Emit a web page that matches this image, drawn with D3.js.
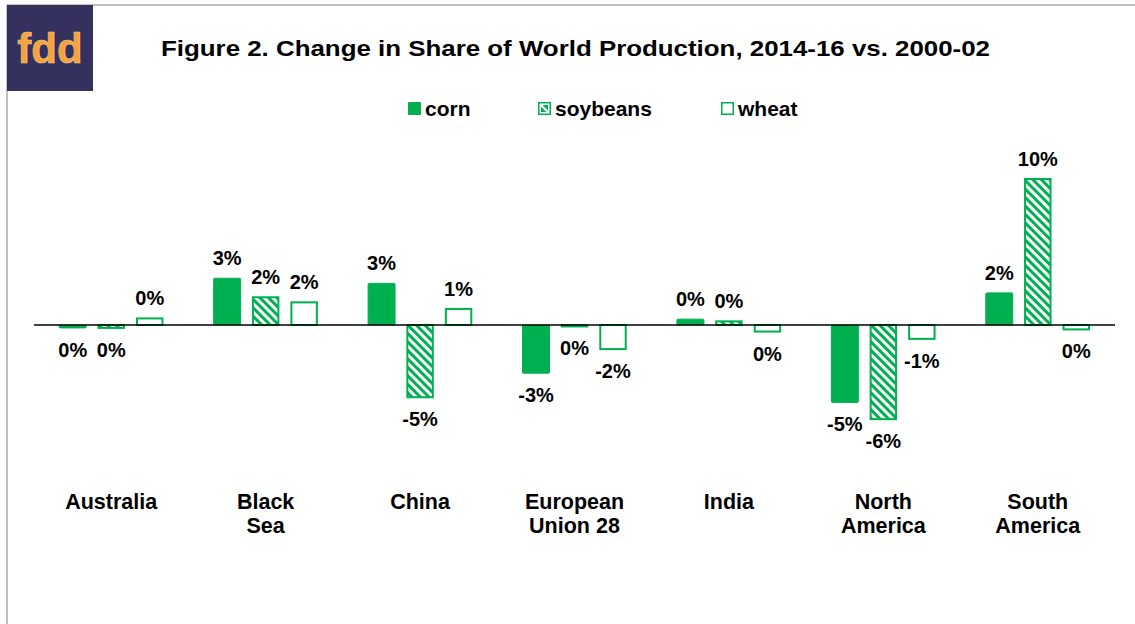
<!DOCTYPE html>
<html>
<head>
<meta charset="utf-8">
<script src="https://cdn.jsdelivr.net/npm/d3@7"></script>
<style>
  html, body { margin: 0; padding: 0; background: #fff; }
  svg { display: block; }
  text { font-family: "Liberation Sans", Arial, sans-serif; }
</style>
</head>
<body>
<svg id="chart" width="1135" height="624"></svg>
<script>
// ---- data (percent change in share of world production) ----
const categories = ["Australia", "Black Sea", "China", "European Union 28", "India", "North America", "South America"];
const seriesNames = ["corn", "soybeans", "wheat"];
const corn     = [-0.2, 3.2, 2.85, -3.3, 0.4, -5.3, 2.2];
const soybeans = [-0.2, 1.9, -4.95, -0.1, 0.25, -6.45, 10.0];
const wheat    = [0.45, 1.55, 1.1, -1.65, -0.45, -0.95, -0.3];
const titleText = "Figure 2. Change in Share of World Production, 2014-16 vs. 2000-02";
const logoText = "fdd";

const seriesValues = { corn, soybeans, wheat };
const green = "#00b050";

const svg = d3.select("#chart");
const W = 1135, H = 624;

svg.append("rect").attr("width", W).attr("height", H).attr("fill", "#fff");

// pattern for soybeans
const defs = svg.append("defs");
const pat = defs.append("pattern")
  .attr("id", "hatch")
  .attr("patternUnits", "userSpaceOnUse")
  .attr("width", 6).attr("height", 6)
  .attr("patternTransform", "rotate(-45)");
pat.append("rect").attr("width", 6).attr("height", 6).attr("fill", "#fff");
pat.append("rect").attr("x", 0).attr("width", 3).attr("height", 6).attr("fill", green);

// frame
svg.append("line").attr("x1", 7).attr("x2", W).attr("y1", 5).attr("y2", 5)
  .attr("stroke", "#c0c0c0").attr("stroke-width", 2);
svg.append("line").attr("x1", 7).attr("x2", 7).attr("y1", 5).attr("y2", H)
  .attr("stroke", "#c0c0c0").attr("stroke-width", 2);

// logo
svg.append("rect").attr("x", 7).attr("y", 5).attr("width", 86).attr("height", 86).attr("fill", "#35315f");
svg.append("text").attr("x", 50).attr("y", 63).attr("text-anchor", "middle")
  .attr("font-size", 42).attr("font-weight", "bold").attr("fill", "#f8a23b")
  .attr("stroke", "#f3c892").attr("stroke-width", 0.6)
  .text(logoText);

// title
svg.append("text").attr("x", 161).attr("y", 56)
  .attr("font-size", 22).attr("font-weight", "bold").attr("fill", "#000")
  .attr("textLength", 829).attr("lengthAdjust", "spacingAndGlyphs")
  .text(titleText);

// scales
const x0 = d3.scaleBand().domain(categories).range([34, 1115]).padding(0);
const x1 = d3.scaleBand().domain(seriesNames).range([-57.75, 57.75]).paddingInner(0.3).paddingOuter(0.15);
const y = d3.scaleLinear().domain([-8, 12]).range([441.8, 149.8]);

// legend
const legendX = { corn: 408, soybeans: 538, wheat: 721 };
seriesNames.forEach(s => {
  const g = svg.append("g").attr("transform", `translate(${legendX[s]},102)`);
  if (s === "corn") {
    g.append("rect").attr("width", 13).attr("height", 13).attr("fill", green).attr("rx", 1);
  } else if (s === "soybeans") {
    g.append("rect").attr("x", 0.75).attr("y", 0.75).attr("width", 11.5).attr("height", 11.5)
      .attr("fill", "#fff").attr("stroke", green).attr("stroke-width", 1.5);
    g.append("rect").attr("x", 3).attr("y", 3).attr("width", 7).attr("height", 7).attr("fill", green);
    g.append("line").attr("x1", 3).attr("y1", 3).attr("x2", 10).attr("y2", 10).attr("stroke", "#fff").attr("stroke-width", 2.2);
  } else {
    g.append("rect").attr("x", 0.75).attr("y", 0.75).attr("width", 11.5).attr("height", 11.5)
      .attr("fill", "#fff").attr("stroke", green).attr("stroke-width", 1.5);
  }
  g.append("text").attr("x", 17).attr("y", 13.5).attr("font-size", 21).attr("font-weight", "bold")
    .attr("fill", "#000").text(s);
});

// bars
const fmt = v => (Math.abs(v) < 0.5 ? "0" : (v < 0 ? "-" : "") + Math.round(Math.abs(v))) + "%";
const groups = svg.append("g").selectAll("g").data(categories).join("g")
  .attr("transform", d => `translate(${x0(d) + x0.bandwidth() / 2},0)`);

seriesNames.forEach(s => {
  groups.each(function (cat, i) {
    const v = seriesValues[s][i];
    const g = d3.select(this);
    const bx = x1(s), bw = x1.bandwidth();
    const top = Math.min(y(v), y(0)), h = Math.abs(y(v) - y(0));
    if (s === "corn") {
      g.append("rect").attr("x", bx).attr("y", top).attr("width", bw).attr("height", Math.max(h, 1))
        .attr("fill", green).attr("stroke", green).attr("stroke-width", 1).attr("rx", 1);
    } else {
      g.append("rect").attr("x", bx + 0.75).attr("y", top).attr("width", bw - 1.5).attr("height", Math.max(h, 1))
        .attr("fill", s === "soybeans" ? "url(#hatch)" : "#fff")
        .attr("stroke", green).attr("stroke-width", 2);
    }
    const ly = v >= 0 ? y(v) - 13 : y(v) + 29;
    g.append("text").attr("x", bx + bw / 2).attr("y", ly).attr("text-anchor", "middle")
      .attr("font-size", 20).attr("font-weight", "bold").attr("fill", "#000")
      .text(fmt(v));
  });
});

// zero line
svg.append("line").attr("x1", 34).attr("x2", 1115).attr("y1", y(0)).attr("y2", y(0))
  .attr("stroke", "#000").attr("stroke-width", 1.5);

// category labels
const xAxis = svg.append("g");
categories.forEach(c => {
  const idx = c.indexOf(" ");
  const lines = idx < 0 ? [c] : [c.slice(0, idx), c.slice(idx + 1)];
  const t = xAxis.append("text").attr("x", x0(c) + x0.bandwidth() / 2).attr("y", 509)
    .attr("text-anchor", "middle").attr("font-size", 21.5).attr("font-weight", "bold").attr("fill", "#000");
  lines.forEach((l, k) => t.append("tspan").attr("x", x0(c) + x0.bandwidth() / 2).attr("dy", k ? 24 : 0).text(l));
});
</script>
</body>
</html>
